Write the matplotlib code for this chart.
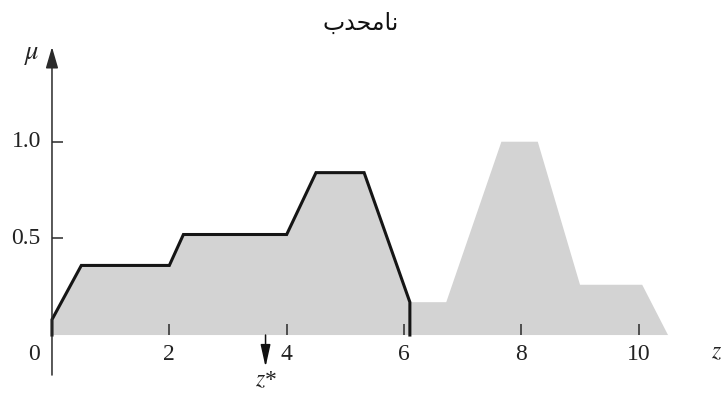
import matplotlib
matplotlib.use("Agg")
import matplotlib.pyplot as plt

# Aggregated membership function (z, mu) vertices
agg_z = [0.0, 0.0, 0.5, 2.0, 2.24, 4.0, 4.5, 5.32, 6.1, 6.72, 7.66, 8.28, 9.0, 10.06, 10.5]
agg_mu = [0.0, 0.08, 0.36, 0.36, 0.52, 0.52, 0.84, 0.84, 0.17, 0.17, 1.0, 1.0, 0.26, 0.26, 0.0]

# Outlined part of the aggregate (left piece, down to the axis)
edge_z = [0.0, 0.0, 0.5, 2.0, 2.24, 4.0, 4.5, 5.32, 6.1, 6.1]
edge_mu = [0.0, 0.08, 0.36, 0.36, 0.52, 0.52, 0.84, 0.84, 0.17, 0.0]

z_star = 3.64

x_ticks = [2, 4, 6, 8, 10]
x_tick_labels = ["2", "4", "6", "8", "10"]
y_ticks = [0.5, 1.0]
y_tick_labels = ["0.5", "1.0"]

title = "\ufe8f\ufeaa\ufea4\ufee3\ufe8e\ufee7"  # نامحدب in presentation forms, visual order

plt.rcParams["mathtext.fontset"] = "stix"

fig = plt.figure(figsize=(7.23, 3.94), dpi=100)
ax = fig.add_axes([0, 0, 1, 1])
ax.set_xlim(-0.886, 11.437)
ax.set_ylim(-0.305, 1.733)
ax.axis("off")

axis_col = "#2a2a2a"
fill_col = "#d3d3d3"
text_col = "#222222"

ax.fill(agg_z, agg_mu, color=fill_col, lw=0, zorder=1)
ax.plot(edge_z, edge_mu, color="#151515", lw=2.2, solid_joinstyle="miter", zorder=3)

# axes with arrow heads
ax.annotate("", xy=(11.50, 0), xytext=(-0.62, 0),
            arrowprops=dict(arrowstyle="-|>,head_length=1.3,head_width=0.38",
                            color=axis_col, lw=1.1, shrinkA=0, shrinkB=0),
            zorder=4)
ax.annotate("", xy=(0, 1.49), xytext=(0, -0.207),
            arrowprops=dict(arrowstyle="-|>,head_length=1.3,head_width=0.38",
                            color=axis_col, lw=1.1, shrinkA=0, shrinkB=0),
            zorder=4)

# tick marks and labels
tick_h = 0.057
tick_w = 0.19
ax.vlines(x_ticks, 0, tick_h, color=axis_col, lw=1.1, zorder=4)
ax.hlines(y_ticks, 0, tick_w, color=axis_col, lw=1.1, zorder=4)

serif = "Liberation Serif"
for xv, lab in zip(x_ticks, x_tick_labels):
    ax.text(xv, -0.103, lab, ha="center", va="center", fontsize=17,
            family=serif, color=text_col)
ax.text(-0.31, -0.103, "0", ha="center", va="center", fontsize=17,
        family=serif, color=text_col)
for yv, lab in zip(y_ticks, y_tick_labels):
    ax.text(-0.19, yv, lab, ha="right", va="center", fontsize=17,
            family=serif, color=text_col)

ax.text(-0.34, 1.454, r"$\mu$", ha="center", va="center", fontsize=19, color=text_col)
ax.text(11.425, -0.093, r"$z$", ha="right", va="center", fontsize=17,
        family=serif, color=text_col)

# defuzzified value marker
ax.annotate("", xy=(z_star, -0.165), xytext=(z_star, 0),
            arrowprops=dict(arrowstyle="-|>,head_length=1.35,head_width=0.3",
                            color="#111111", lw=1.1, shrinkA=0, shrinkB=0),
            zorder=4)
ax.text(z_star, -0.237, r"$z$*", ha="center", va="center", fontsize=17,
        family=serif, color=text_col)

fig.text(0.499, 0.942, title, ha="center", va="center", fontsize=17,
         family=["DejaVu Sans"], color="#111111")

fig.savefig("out.png", dpi=100)
